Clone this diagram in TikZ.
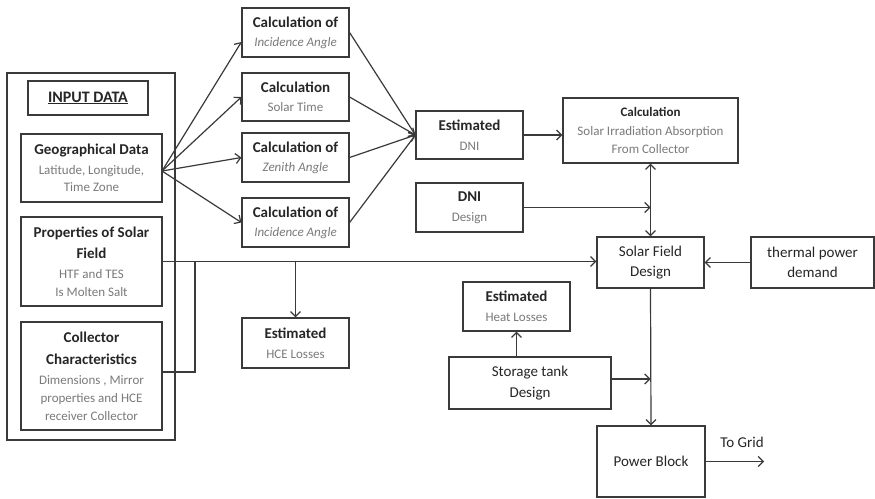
\documentclass[tikz,border=0pt]{standalone}
\usepackage{fontspec}
\setmainfont{Carlito}
\usetikzlibrary{arrows.meta,calc}
\definecolor{linec}{HTML}{3A3A3A}
\definecolor{ttlc}{HTML}{262626}
\definecolor{subc}{HTML}{7A7A7A}
\newcommand{\Ttl}{\fontsize{15}{20}\selectfont\bfseries\color{ttlc}}
\newcommand{\Tnorm}{\fontsize{15}{20}\selectfont\color{ttlc}}
\newcommand{\Sub}{\fontsize{13}{18}\selectfont\mdseries\color{subc}}
\begin{document}
\begin{tikzpicture}[x=1pt,y=-1pt,
  box/.style={draw=linec, line width=1.2pt, inner sep=1pt, align=center, rectangle, font=\fontsize{15}{20}\selectfont},
  arr/.style={draw=linec, line width=1.2pt, -{Straight Barb[length=5pt,width=10pt]}},
  ln/.style={draw=linec, line width=1.2pt}]
\useasboundingbox (0,0) rectangle (875,498);
\fill[white] (0,0) rectangle (875,498);
% input data container
\node[box, minimum width=168, minimum height=367] (input) at (91,256.5) {};
\node[box, minimum width=120, minimum height=34] (idata) at (88,98) {\fontsize{16}{20}\selectfont\bfseries\color{ttlc}\underline{INPUT DATA}};
\node[box, minimum width=141, minimum height=68] (geo) at (91.5,168) {\Ttl Geographical Data\\ \Sub Latitude, Longitude,\\[-3pt] \Sub Time Zone};
\node[box, minimum width=141, minimum height=89] (props) at (91.5,261.5) {\Ttl Properties of Solar\\[1pt] \Ttl Field\\ \Sub HTF and TES\\[-2pt] \Sub Is Molten Salt};
\node[box, minimum width=141, minimum height=108] (coll) at (91.5,376) {\Ttl Collector\\[2pt] \Ttl Characteristics\\ \Sub Dimensions , Mirror\\[-2pt] \Sub properties and HCE\\[-2pt] \Sub receiver Collector};
% calculation column
\node[box, minimum width=107, minimum height=49] (c1) at (295.5,32.5) {\Ttl Calculation of\\[-1pt] \Sub\itshape Incidence Angle};
\node[box, minimum width=107, minimum height=48] (c2) at (295.5,97) {\Ttl Calculation\\[-1pt] \Sub Solar Time};
\node[box, minimum width=107, minimum height=49] (c3) at (295.5,157.5) {\Ttl Calculation of\\[-1pt] \Sub\itshape Zenith Angle};
\node[box, minimum width=107, minimum height=49] (c4) at (295.5,222.5) {\Ttl Calculation of\\[-1pt] \Sub\itshape Incidence Angle};
\node[box, minimum width=107, minimum height=50] (hce) at (295.5,343) {\Ttl Estimated\\ \Sub HCE Losses};
% middle
\node[box, minimum width=107, minimum height=48] (edni) at (469.5,135) {\Ttl Estimated\\ \Sub DNI};
\node[box, minimum width=107, minimum height=49] (dnid) at (469.5,207.5) {\Ttl DNI\\ \Sub Design};
\node[box, minimum width=175, minimum height=65] (cirr) at (650.5,130.5) {\fontsize{13}{18}\selectfont\bfseries\color{ttlc}Calculation\\[-1pt] \Sub Solar Irradiation Absorption\\[-2pt] \Sub From Collector};
\node[box, minimum width=107, minimum height=51] (sfd) at (650.5,262.5) {\Tnorm Solar Field\\ \Tnorm Design};
\node[box, minimum width=123, minimum height=51] (tpd) at (812.5,262.5) {\Tnorm thermal power\\ \Tnorm demand};
\node[box, minimum width=107, minimum height=49] (ehl) at (516.5,306.5) {\Ttl Estimated\\ \Sub Heat Losses};
\node[box, minimum width=162, minimum height=52] (std) at (530,383) {\Tnorm Storage tank\\[1pt] \Tnorm Design};
\node[box, minimum width=108, minimum height=71] (pb) at (651,461.5) {\Tnorm Power Block};
\node[inner sep=0pt, font=\fontsize{15}{20}\selectfont] (tog) at (742,442) {\Tnorm To Grid};
% connectors
\coordinate (g) at (162,171);
\draw[arr] (g) -- ($(c1.west)+(0,9.5)$);
\draw[arr] (g) -- (c2.west);
\draw[arr] (g) -- (c3.west);
\draw[arr] (g) -- (c4.west);
\draw[arr] (c1.east) -- (edni.west);
\draw[arr] (c2.east) -- (edni.west);
\draw[arr] (c3.east) -- (edni.west);
\draw[arr] (c4.east) -- (edni.west);
\draw[arr] (edni.east) -- (edni.east -| cirr.west);
\draw[arr, {Straight Barb[length=5pt,width=10pt]}-{Straight Barb[length=5pt,width=10pt]}] (cirr.south) -- (sfd.north);
\draw[arr] (dnid.east) -- (dnid.east -| sfd.north);
\draw[arr] (props.east) -- (props.east -| sfd.west);
\draw[arr] (props.east -| hce.north) -- (hce.north);
\coordinate (co) at (162,372);
\coordinate (cj) at (195,372);
\draw[ln] (co) -- (cj) -- (cj |- props.east);
\draw[arr] (tpd.west) -- (sfd.east);
\draw[arr] (sfd.south) -- (pb.north);
\coordinate (so) at (611,379);
\draw[arr] (so) -- (so -| sfd.south);
\draw[arr] (ehl.south |- std.north) -- (ehl.south);
\coordinate (grid) at (764,461.5);
\draw[arr] (pb.east) -- (grid);
\end{tikzpicture}
\end{document}
